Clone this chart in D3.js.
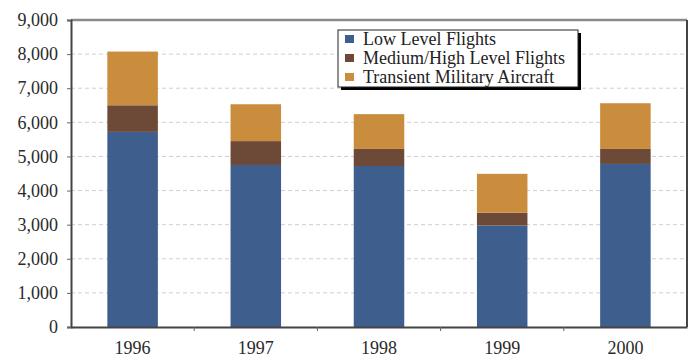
<!DOCTYPE html>
<html>
<head>
<meta charset="utf-8">
<script src="https://cdn.jsdelivr.net/npm/d3@7"></script>
<style>
  body { margin: 0; background: #fff; }
  svg { display: block; }
  text { font-family: "Liberation Serif", "Times New Roman", serif; }
</style>
</head>
<body>
<div class="chart"></div>
<script>
const years = ['1996', '1997', '1998', '1999', '2000'];
const lowLevel = [5720, 4750, 4720, 2975, 4780];
const mediumHigh = [780, 700, 500, 375, 440];
const transient = [1575, 1080, 1020, 1140, 1340];
const seriesNames = ['Low Level Flights', 'Medium/High Level Flights', 'Transient Military Aircraft'];
const yTicks = [0, 1000, 2000, 3000, 4000, 5000, 6000, 7000, 8000, 9000];

const colors = ['#3e5f8e', '#6d4a37', '#c98d3d'];
const serif = '"Liberation Serif", "Times New Roman", serif';

function draw() {
  const width = 691, height = 359;
  const margin = { left: 71, top: 20, right: 4, bottom: 32 };
  const plotW = width - margin.left - margin.right;
  const plotH = height - margin.top - margin.bottom;

  const svg = d3.select('.chart').append('svg')
    .attr('width', width)
    .attr('height', height);

  const rows = years.map((y, i) => ({
    year: y, low: lowLevel[i], med: mediumHigh[i], tra: transient[i]
  }));
  const stack = d3.stack().keys(['low', 'med', 'tra'])(rows);

  const x = d3.scaleBand().domain(years).range([0, plotW]).paddingInner(0.59).paddingOuter(0.295);
  const y = d3.scaleLinear().domain([0, 9000]).range([plotH, 0]);

  const g = svg.append('g')
    .attr('transform', 'translate(' + margin.left + ',' + margin.top + ')');

  // gridlines
  g.append('g')
    .selectAll('line')
    .data(yTicks.filter((t) => t > 0 && t < 9000))
    .join('line')
    .attr('x1', 0)
    .attr('x2', plotW)
    .attr('y1', (d) => y(d))
    .attr('y2', (d) => y(d))
    .attr('stroke', '#cfcfcf')
    .attr('stroke-width', 1)
    .attr('stroke-dasharray', '4,3');

  // bars
  g.append('g')
    .selectAll('g')
    .data(stack)
    .join('g')
    .attr('fill', (d, i) => colors[i])
    .selectAll('rect')
    .data((d) => d)
    .join('rect')
    .attr('x', (d) => x(d.data.year))
    .attr('y', (d) => y(d[1]))
    .attr('width', x.bandwidth())
    .attr('height', (d) => y(d[0]) - y(d[1]));

  // frame
  g.append('line')
    .attr('x1', 0).attr('x2', plotW)
    .attr('y1', 0).attr('y2', 0)
    .attr('stroke', '#8a8a8a').attr('stroke-width', 2.5);
  g.append('line')
    .attr('x1', plotW).attr('x2', plotW)
    .attr('y1', 0).attr('y2', plotH)
    .attr('stroke', '#444').attr('stroke-width', 2);

  // y axis
  const yAxis = g.append('g')
    .attr('font-family', serif)
    .call(d3.axisLeft(y).tickValues(yTicks).tickSize(4).tickPadding(9)
      .tickFormat(d3.format(',')));
  yAxis.select('.domain').attr('stroke', '#444').attr('stroke-width', 2);
  yAxis.selectAll('.tick line').attr('stroke', '#666');
  yAxis.selectAll('text')
    .style('font-family', serif)
    .style('font-size', '18px')
    .attr('fill', '#2a2a2a');

  // x axis
  const xAxis = g.append('g')
    .attr('font-family', serif)
    .attr('transform', 'translate(0,' + plotH + ')')
    .call(d3.axisBottom(x).tickSize(0).tickPadding(14));
  xAxis.select('.domain').attr('stroke', '#444').attr('stroke-width', 2);
  xAxis.selectAll('text')
    .style('font-family', serif)
    .style('font-size', '18px')
    .attr('fill', '#2a2a2a');
  // ticks between categories
  xAxis.append('g')
    .selectAll('line')
    .data(years.slice(1))
    .join('line')
    .attr('x1', (d) => x(d) - x.step() * x.paddingInner() / 2)
    .attr('x2', (d) => x(d) - x.step() * x.paddingInner() / 2)
    .attr('y1', 0)
    .attr('y2', 4)
    .attr('stroke', '#666');

  // legend
  const lx = 338, ly = 30, lw = 240, lh = 57;
  const legend = svg.append('g').attr('transform', 'translate(' + lx + ',' + ly + ')');
  legend.append('rect')
    .attr('x', 3).attr('y', 3).attr('width', lw).attr('height', lh)
    .attr('fill', '#000');
  legend.append('rect')
    .attr('x', 0).attr('y', 0).attr('width', lw).attr('height', lh)
    .attr('fill', '#fff').attr('stroke', '#222').attr('stroke-width', 1);
  seriesNames.forEach((name, i) => {
    legend.append('rect')
      .attr('x', 7).attr('y', 5 + i * 19)
      .attr('width', 9).attr('height', 8)
      .attr('fill', colors[i]);
    legend.append('text')
      .attr('x', 25).attr('y', 15 + i * 19)
      .style('font-family', serif)
      .style('font-size', '18px')
      .attr('fill', '#222')
      .text(name);
  });
}

draw();
</script>
</body>
</html>
